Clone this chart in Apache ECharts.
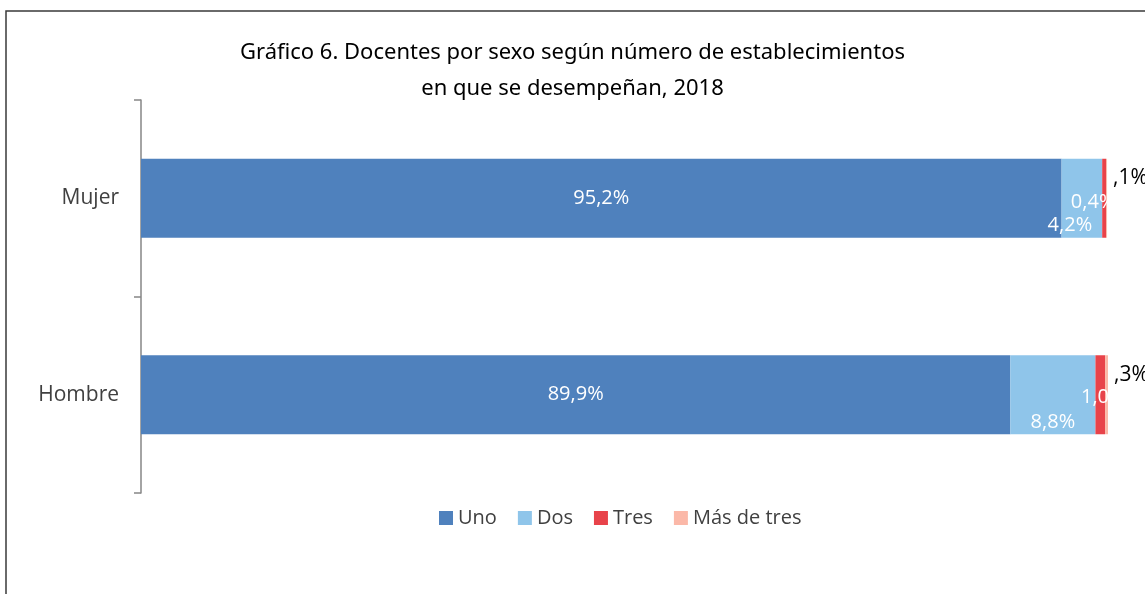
<!DOCTYPE html>
<html>
<head>
<meta charset="utf-8">
<script src="https://cdn.jsdelivr.net/npm/echarts@6/dist/echarts.min.js"></script>
<style>
  html, body { margin: 0; padding: 0; background: #fff; }
  #chart { width: 1145px; height: 594px; }
</style>
</head>
<body>
<div id="chart"></div>
<script>
// categorías y porcentajes
const categorias = ['Mujer', 'Hombre'];
const nombres = ['Uno', 'Dos', 'Tres', 'Más de tres'];
const uno = [95.2, 89.9];
const dos = [4.2, 8.8];
const tres = [0.4, 1.0];
const masDeTres = [0.1, 0.3];
const colores = ['#4f81bd', '#8fc5ea', '#e8434a', '#fbb8a8'];

const fmt = v => v.toFixed(1).replace('.', ',') + '%';

const chart = echarts.init(document.getElementById('chart'));

const baseLabel = {
  show: true,
  color: '#fff',
  fontFamily: 'Open Sans',
  fontSize: 20,
  formatter: p => fmt(p.value)
};

const options = {
  animation: false,
  title: {
    text: 'Gráfico 6. Docentes por sexo según número de establecimientos\nen que se desempeñan, 2018',
    left: 'center',
    top: 30,
    textStyle: {
      fontFamily: 'Noto Sans',
      fontWeight: 'normal',
      fontSize: 22,
      lineHeight: 36,
      color: '#000'
    }
  },
  legend: {
    bottom: 61,
    left: 434,
    itemWidth: 14,
    itemHeight: 14,
    itemGap: 21,
    icon: 'rect',
    textStyle: { fontFamily: 'Open Sans', fontSize: 20, color: '#404040' },
    data: nombres
  },
  graphic: [{
    type: 'rect',
    shape: { x: 6, y: 11, width: 1200, height: 700 },
    style: { fill: 'none', stroke: '#3a3a3a', lineWidth: 1.5 },
    silent: true
  }],
  grid: { left: 141, right: 37, top: 100, bottom: 101 },
  xAxis: {
    type: 'value',
    min: 0,
    max: 100,
    show: false
  },
  yAxis: {
    type: 'category',
    inverse: true,
    data: categorias,
    axisLine: { lineStyle: { color: '#868686', width: 1.5 } },
    axisTick: { show: true, length: 7, lineStyle: { color: '#868686', width: 1.5 } },
    axisLabel: { fontFamily: 'Open Sans', fontSize: 21, color: '#404040', margin: 22 }
  },
  series: [
    {
      name: 'Uno', type: 'bar', stack: 'total', barWidth: 79,
      itemStyle: { color: colores[0] },
      label: Object.assign({}, baseLabel, { position: 'inside' }),
      data: uno
    },
    {
      name: 'Dos', type: 'bar', stack: 'total',
      itemStyle: { color: colores[1] },
      label: Object.assign({}, baseLabel, { position: 'insideBottom', distance: 2 }),
      data: dos.map((v, i) => i === 0
        ? { value: v, label: { offset: [-12, 0] } }
        : { value: v })
    },
    {
      name: 'Tres', type: 'bar', stack: 'total',
      itemStyle: { color: colores[2] },
      label: Object.assign({}, baseLabel, { position: 'inside' }),
      data: tres.map((v, i) => i === 0
        ? { value: v, label: { offset: [-11, 4] } }
        : { value: v, label: { offset: [3, 3] } })
    },
    {
      name: 'Más de tres', type: 'bar', stack: 'total',
      itemStyle: { color: colores[3] },
      label: {
        show: true,
        position: 'right',
        distance: 6,
        offset: [0, -20],
        color: '#000',
        fontFamily: 'Open Sans',
        fontSize: 21,
        formatter: p => fmt(p.value).replace(/^0/, '')
      },
      data: masDeTres
    }
  ]
};

chart.setOption(options);
</script>
</body>
</html>
